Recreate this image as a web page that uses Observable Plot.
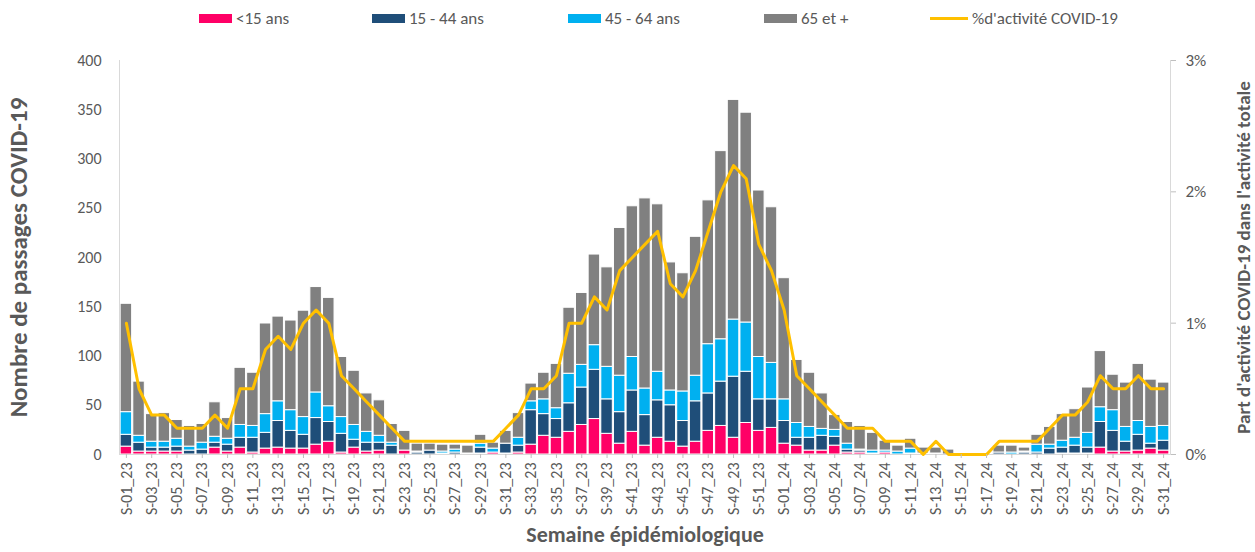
<!DOCTYPE html>
<html>
<head>
<meta charset="utf-8">
<script src="https://cdn.jsdelivr.net/npm/d3@7"></script>
<script src="https://cdn.jsdelivr.net/npm/@observablehq/plot@0.6"></script>
<style>
  html, body { margin: 0; padding: 0; background: #fff; }
  body { width: 1255px; height: 552px; overflow: hidden; font-family: Carlito, Lato, sans-serif; color: #595959; }
  #legend { position: relative; height: 36px; width: 1255px; font-size: 17px; }
  .item { position: absolute; top: 9px; display: flex; align-items: center; white-space: nowrap; height: 18px; }
  .sw { display: inline-block; margin-right: 4px; }
  svg { display: block; }
</style>
</head>
<body>
<div id="legend"></div>
<div id="chart"></div>
<script>
// Catégories : semaines épidémiologiques
const semaines = [];
for (let i = 1; i <= 52; i++) semaines.push(`S-${String(i).padStart(2, "0")}_23`);
for (let i = 1; i <= 31; i++) semaines.push(`S-${String(i).padStart(2, "0")}_24`);

const groupes = ["<15 ans", "15 - 44 ans", "45 - 64 ans", "65 et +"];
const couleurs = ["#FF0066", "#1F4E79", "#00B0F0", "#808080"];
const couleurLigne = "#FFC000";
const libelleLigne = "%d'activité COVID-19";

const moins15 = [8,3,3,3,3,0,0,7,3,7, 2,6,7,6,6,10,13,2,7,3, 4,0,4,0,0,0,0,0,1,2,
  1,2,10,19,17,23,30,36,21,11, 23,9,17,13,8,13,24,29,17,32, 24,27,11,9,4,4,9,2,2,0,
  2,0,0,0,0,0,0,0,0,0, 0,0,0,0,1,1,1,7,3,3, 4,6,4];
const de15a44 = [12,9,4,4,5,4,5,5,7,10, 15,16,27,18,14,27,20,19,8,9, 8,9,0,2,4,1,2,1,6,0,
  10,7,35,22,19,29,38,50,35,32, 42,31,38,37,26,41,38,45,62,52, 32,29,23,8,13,15,9,3,2,1,
  0,0,1,0,0,0,0,0,0,2, 0,2,2,6,6,8,6,26,21,10, 16,5,10];
const de45a64 = [23,7,6,6,8,4,7,6,6,13, 12,19,20,21,18,26,16,17,15,11, 7,3,0,1,0,2,3,0,4,4,
  0,8,9,15,11,30,23,25,33,37, 34,27,29,15,30,26,50,43,58,50, 43,37,22,15,11,7,7,6,1,3,
  2,3,5,1,1,0,0,0,0,0, 2,1,8,4,7,8,15,15,21,15, 14,17,15];
const plus65 = [110,55,28,29,19,21,19,35,21,58, 54,92,86,91,108,107,110,61,55,39, 36,19,20,8,7,7,5,8,9,6,
  13,25,18,27,45,67,73,92,101,150, 153,193,170,130,120,141,146,191,223,213, 169,158,123,64,55,36,15,22,24,18,
  10,6,10,6,6,5,0,0,0,7, 7,4,10,18,27,29,46,57,36,45, 58,48,44];
// Part d'activité COVID-19 (%)
const pctActivite = [1.0,0.5,0.3,0.3,0.2,0.2,0.2,0.3,0.2,0.5, 0.5,0.8,0.9,0.8,1.0,1.1,1.0,0.6,0.5,0.4, 0.3,0.2,0.1,0.1,0.1,0.1,0.1,0.1,0.1,0.1,
  0.2,0.3,0.5,0.5,0.6,1.0,1.0,1.2,1.1,1.4, 1.5,1.6,1.7,1.3,1.2,1.4,1.7,2.0,2.2,2.1, 1.6,1.4,1.1,0.6,0.5,0.4,0.3,0.2,0.2,0.2,
  0.1,0.1,0.1,0.0,0.1,0.0,0.0,0.0,0.0,0.1, 0.1,0.1,0.1,0.2,0.3,0.3,0.4,0.6,0.5,0.5, 0.6,0.5,0.5];

const ticksGauche = [0, 50, 100, 150, 200, 250, 300, 350, 400];
const ticksDroite = [0, 1, 2, 3];
const yMax = 400, pctMax = 3;

// Légende HTML
const legend = document.getElementById("legend");
const legendX = [199, 372, 568, 764, 930];
[...groupes, libelleLigne].forEach((g, i) => {
  const it = document.createElement("div");
  it.className = "item";
  it.style.left = legendX[i] + "px";
  const sw = document.createElement("span");
  sw.className = "sw";
  if (i < 4) { sw.style.width = "33px"; sw.style.height = "9px"; sw.style.background = couleurs[i]; }
  else { sw.style.width = "38px"; sw.style.height = "3px"; sw.style.background = couleurLigne; }
  it.appendChild(sw);
  it.appendChild(document.createTextNode(g));
  legend.appendChild(it);
});

const rows = groupes.flatMap((g, k) => semaines.map((s, i) => ({semaine: s, groupe: g, valeur: [moins15, de15a44, de45a64, plus65][k][i]})));
const ligne = semaines.map((s, i) => ({semaine: s, pct: pctActivite[i]}));
const toY = p => p * yMax / pctMax;

const chart = Plot.plot({
  width: 1255,
  height: 516,
  marginTop: 24,
  marginBottom: 98,
  marginLeft: 119,
  marginRight: 85,
  style: {fontFamily: "Carlito, Lato, sans-serif", fontSize: "14px", color: "#595959", background: "white", overflow: "visible"},
  x: {domain: semaines, padding: 0.09, axis: null},
  y: {domain: [0, yMax], axis: null},
  color: {domain: groupes, range: couleurs},
  marks: [
    Plot.barY(rows, {x: "semaine", y: "valeur", fill: "groupe", stroke: "white", strokeWidth: 1}),
    Plot.frame({anchor: "left", stroke: "#d9d9d9"}),
    Plot.frame({anchor: "right", stroke: "#d9d9d9"}),
    Plot.ruleY([0], {stroke: "#d9d9d9"}),
    Plot.lineY(ligne, {x: "semaine", y: d => toY(d.pct), stroke: couleurLigne, strokeWidth: 3, strokeLinejoin: "round"}),
    Plot.axisY(ticksGauche, {anchor: "left", label: null, tickSize: 0, tickPadding: 18, fontSize: 16, color: "#595959"}),
    Plot.axisY(ticksDroite.map(toY), {anchor: "right", label: null, tickSize: 5, tickPadding: 10, fontSize: 17, color: "#595959", stroke: "#bfbfbf",
      tickFormat: d => Math.round(d * pctMax / yMax) + "%"}),
    Plot.axisX(semaines.filter((d, i) => i % 2 === 0), {anchor: "bottom", label: null, tickRotate: -90, tickSize: 4, tickPadding: 4, fontSize: 16, color: "#595959", stroke: "#bfbfbf"}),
    Plot.text(["Nombre de passages COVID-19"], {frameAnchor: "left", dx: -101, rotate: -90, textAnchor: "middle", fontSize: 25, fontWeight: "bold", fill: "#595959"}),
    Plot.text(["Part d'activité COVID-19 dans l'activité totale"], {frameAnchor: "right", dx: 73, rotate: -90, textAnchor: "middle", fontSize: 19, fontWeight: "bold", fill: "#595959"}),
    Plot.text(["Semaine épidémiologique"], {frameAnchor: "bottom", dy: 87, textAnchor: "middle", fontSize: 22, fontWeight: "bold", fill: "#595959"})
  ]
});
document.getElementById("chart").appendChild(chart);
</script>
</body>
</html>
